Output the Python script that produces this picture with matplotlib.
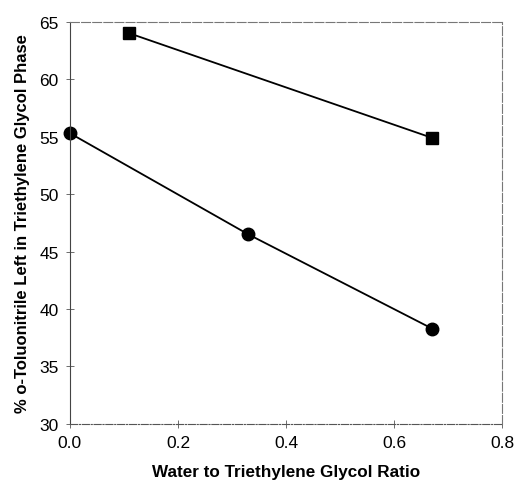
import matplotlib
matplotlib.use('Agg')
import matplotlib.pyplot as plt

plt.rcParams['font.family'] = ['Liberation Sans', 'DejaVu Sans']

circle_x = [0.0, 0.33, 0.67]
circle_y = [55.3, 46.5, 38.3]
square_x = [0.11, 0.67]
square_y = [64.0, 54.9]

fig = plt.figure(figsize=(5.14, 4.85), dpi=100)
ax = fig.add_axes([0.136, 0.124, 0.841, 0.829])

ax.plot(circle_x, circle_y, color='black', lw=1.3, marker='o', ms=9, clip_on=False)
ax.plot(square_x, square_y, color='black', lw=1.3, marker='s', ms=8, clip_on=False)

ax.set_xlim(0, 0.8)
ax.set_ylim(30, 65)
ax.set_xticks([0.0, 0.2, 0.4, 0.6, 0.8])
ax.set_xticklabels(['0.0', '0.2', '0.4', '0.6', '0.8'])
ax.set_yticks(range(30, 70, 5))
ax.tick_params(direction='inout', length=6, width=0.6, color='#555555', labelsize=12.5, pad=5)

ax.spines['left'].set_color('#444444')
ax.spines['left'].set_linewidth(0.8)
ax.spines['bottom'].set_color('#555555')
ax.spines['bottom'].set_linestyle('-.')
ax.spines['bottom'].set_linewidth(0.8)
for s in ['top', 'right']:
    ax.spines[s].set_color('#777777')
    ax.spines[s].set_linestyle((0, (8, 2)))
    ax.spines[s].set_linewidth(0.8)

ax.set_xlabel('Water to Triethylene Glycol Ratio', fontsize=12.3, fontweight='bold', labelpad=10)
ax.set_ylabel('% o-Toluonitrile Left in Triethylene Glycol Phase', fontsize=12, fontweight='bold', labelpad=7)

fig.savefig('out.png', dpi=100)
